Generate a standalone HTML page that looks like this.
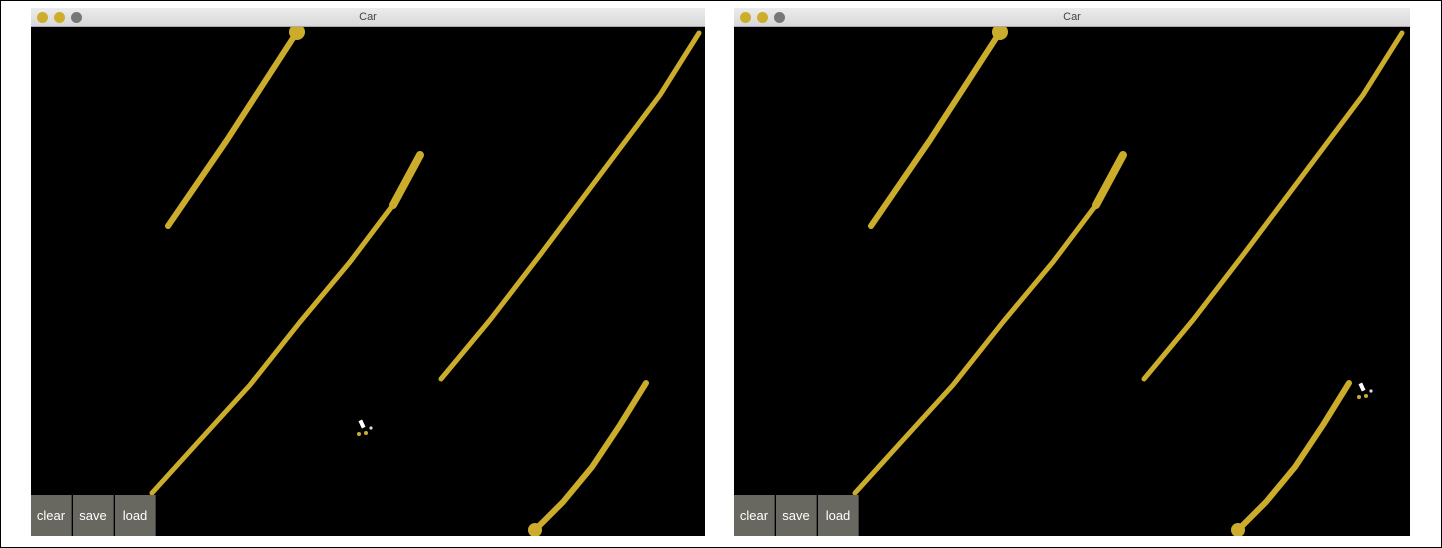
<!DOCTYPE html>
<html><head><meta charset="utf-8"><style>
html,body{margin:0;padding:0;background:#fff;width:1442px;height:548px;overflow:hidden;font-family:"Liberation Sans",sans-serif}
#frame{position:absolute;left:0;top:0;width:1440px;height:546px;border:1px solid #000}
.win{position:absolute;top:8px;width:674px;height:528px;background:#000}
.title{position:absolute;left:0;top:0;width:100%;height:18px;background:linear-gradient(#ececec,#d8d8d8);border-bottom:1px solid #aaa;font-size:11px;color:#444;text-align:center;line-height:18px}
.dot{position:absolute;top:4px;width:11px;height:11px;border-radius:50%;background:#cdae2c}
.canvas{position:absolute;left:0;top:19px}
.btn{position:absolute;bottom:0;width:40px;height:41px;background:#686860;color:#fff;font-size:13px;line-height:41px;text-align:center;border-right:1px solid #444}
</style></head><body>
<div id="frame"></div>
<div class="win" style="left:31px">
 <div class="title">Car
  <div class="dot" style="left:6px"></div>
  <div class="dot" style="left:23px"></div>
  <div class="dot" style="left:40px;background:#777"></div>
 </div>
 <svg class="canvas" id="c1" width="674" height="509"></svg>
 <div class="btn" style="left:0">clear</div>
 <div class="btn" style="left:42px">save</div>
 <div class="btn" style="left:84px">load</div>
</div>
<div class="win" style="left:734px;width:676px">
 <div class="title">Car
  <div class="dot" style="left:6px"></div>
  <div class="dot" style="left:23px"></div>
  <div class="dot" style="left:40px;background:#777"></div>
 </div>
 <svg class="canvas" id="c2" width="676" height="509"></svg>
 <div class="btn" style="left:0">clear</div>
 <div class="btn" style="left:42px">save</div>
 <div class="btn" style="left:84px">load</div>
</div>
<script>
// page coordinates of drawn strokes (left window)
const strokeA=[[297,32],[262,86],[227,140],[168,226]];
const strokeBTop=[[420,155],[393,205]];
const strokeB=[[393,205],[350,262],[300,322],[250,385],[200,440],[152,493]];
const strokeC=[[699,33],[660,95],[600,175],[540,255],[490,320],[441,379]];
const strokeD=[[646,383],[620,425],[592,467],[563,502],[535,530]];
const strokeWidths=[6,8,5,5,6];
const cars=[[362,428],[1362,391]];
const winX=[31,734];
const winOffset=[0,703];
const NS='http://www.w3.org/2000/svg';
const COL='#cbad2b';
function draw(id,i){
  const svg=document.getElementById(id);
  const ox=winX[i],oy=27,d=winOffset[i];
  [strokeA,strokeBTop,strokeB,strokeC,strokeD].forEach((s,k)=>{
    const p=document.createElementNS(NS,'polyline');
    p.setAttribute('points',s.map(q=>(q[0]+d-ox)+','+(q[1]-oy)).join(' '));
    p.setAttribute('fill','none');p.setAttribute('stroke',COL);
    p.setAttribute('stroke-width',strokeWidths[k]);p.setAttribute('stroke-linecap','round');p.setAttribute('stroke-linejoin','round');
    
    
    svg.appendChild(p);
  });
  [[strokeA[0],8],[strokeD[strokeD.length-1],7]].forEach(b=>{
    const c=document.createElementNS(NS,'circle');
    c.setAttribute('cx',b[0][0]+d-ox);c.setAttribute('cy',b[0][1]-oy);c.setAttribute('r',b[1]);
    c.setAttribute('fill',COL);
    
    
    svg.appendChild(c);
  });
  const cx=cars[i][0]-ox,cy=cars[i][1]-oy;
  const g=document.createElementNS(NS,'g');
  
  
  g.innerHTML='<rect x="'+(cx-2)+'" y="'+(cy-8)+'" width="4" height="8" fill="#fff" transform="rotate(-25 '+cx+' '+(cy-4)+')"/>'+
   '<circle cx="'+(cx-3)+'" cy="'+(cy+6)+'" r="2" fill="'+COL+'"/><circle cx="'+(cx+4)+'" cy="'+(cy+5)+'" r="2" fill="'+COL+'"/>'+
   '<circle cx="'+(cx+9)+'" cy="'+cy+'" r="1.6" fill="#ddd"/>';
  svg.appendChild(g);
}
draw('c1',0);draw('c2',1);
</script>
</body></html>
